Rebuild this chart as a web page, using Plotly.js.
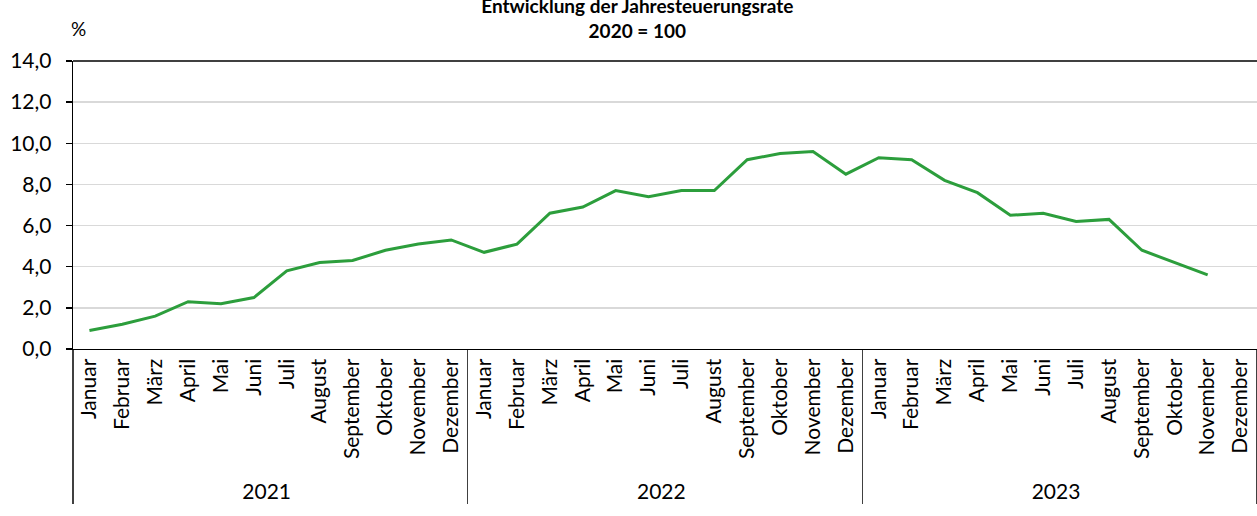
<!DOCTYPE html>
<html>
<head>
<meta charset="utf-8">
<script src="https://cdn.plot.ly/plotly-3.0.1.min.js"></script>
<style>html,body{margin:0;padding:0;background:#fff;}#chart{width:1257px;height:516px;}</style>
</head>
<body>
<div id="chart"></div>
<script>
const yearLabels = ["2021", "2022", "2023"];
const monthNames = ["Januar","Februar","März","April","Mai","Juni","Juli","August","September","Oktober","November","Dezember"];
const rate2021 = [0.9, 1.2, 1.6, 2.3, 2.2, 2.5, 3.8, 4.2, 4.3, 4.8, 5.1, 5.3];
const rate2022 = [4.7, 5.1, 6.6, 6.9, 7.7, 7.4, 7.7, 7.7, 9.2, 9.5, 9.6, 8.5];
const rate2023 = [9.3, 9.2, 8.2, 7.6, 6.5, 6.6, 6.2, 6.3, 4.8, 4.2, 3.6, null];
const yTicks = [0, 2, 4, 6, 8, 10, 12, 14];

const outer = [], inner = [];
yearLabels.forEach(y => monthNames.forEach(m => { outer.push(y); inner.push(m); }));
const values = rate2021.concat(rate2022, rate2023);

const FONT = "Lato, 'Open Sans', sans-serif";
const FS = 21;

const trace = {
  type: 'scatter', mode: 'lines',
  x: [outer, inner], y: values,
  line: {color: '#2c9e3c', width: 3},
  connectgaps: false,
  hoverinfo: 'skip'
};

const layout = {
  width: 1257, height: 516,
  margin: {l: 73, r: 0, t: 61, b: 167},
  paper_bgcolor: '#fff', plot_bgcolor: '#fff',
  separators: ',.',
  font: {family: FONT, size: FS, color: '#000'},
  showlegend: false,
  title: {
    text: '<b>Entwicklung der Jahresteuerungsrate</b><br><b>2020 = 100</b>',
    font: {family: FONT, size: 19, color: '#000'},
    xref: 'container', x: 0.507, xanchor: 'center',
    yref: 'container', y: 0.975, yanchor: 'bottom'
  },
  xaxis: {
    type: 'multicategory',
    range: [-0.5, 35.5],
    tickangle: -90,
    ticks: 'outside', ticklen: 9, tickcolor: 'rgba(0,0,0,0)',
    showgrid: false,
    showline: true, linecolor: '#000', linewidth: 1.3,
    showdividers: true, dividercolor: '#404040', dividerwidth: 1.3,
    tickfont: {family: FONT, size: FS, color: '#000'},
    automargin: false, zeroline: false
  },
  yaxis: {
    range: [0, 14],
    tickvals: yTicks,
    tickformat: '.1f',
    ticks: 'outside', ticklen: 6, tickcolor: '#000', tickwidth: 1.3,
    ticklabelstandoff: 10,
    showline: true, linecolor: '#000', linewidth: 1.3,
    showgrid: true, gridcolor: '#d9d9d9', gridwidth: 1.3,
    zeroline: false,
    tickfont: {family: FONT, size: FS, color: '#000'},
    automargin: false
  },
  shapes: [
    {type: 'line', xref: 'paper', yref: 'paper', x0: 0, x1: 1, y0: 1, y1: 1, line: {color: '#000', width: 1.3}}
  ],
  annotations: [
    {text: '%', xref: 'paper', yref: 'paper', x: 0, y: 1, xshift: 5, yshift: 33, xanchor: 'center', yanchor: 'middle', showarrow: false, font: {family: FONT, size: 19, color: '#000'}}
  ]
};

Plotly.newPlot('chart', [trace], layout, {displayModeBar: false, staticPlot: true});
</script>
</body>
</html>
